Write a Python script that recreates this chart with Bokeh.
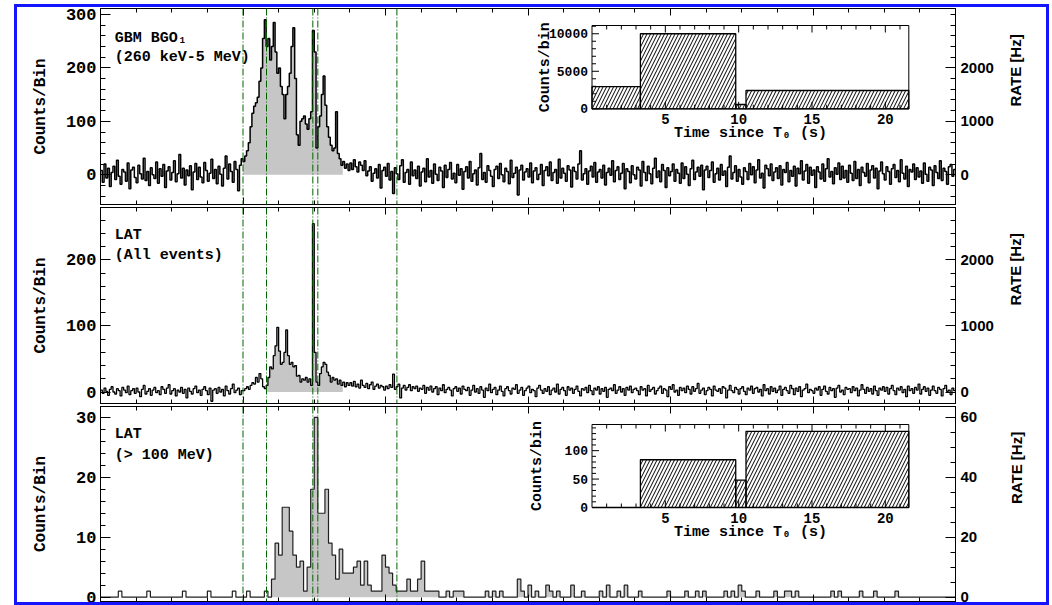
import math
from bokeh.plotting import figure
from bokeh.layouts import column
from bokeh.models import Range1d, LinearAxis, FixedTicker, Span, Label
from bokeh.core.properties import value
from bokeh.embed import file_html
from bokeh.resources import INLINE

# ------------------------------------------------------------------ data
T_START = -20.0
T_END = 100.0
FINE_BIN = 0.25    # s  (GBM BGO and LAT all events)
COARSE_BIN = 0.5   # s  (LAT > 100 MeV)

# GBM BGO counts / bin
gbm_pre = [8, -14, 20, -6, 12, -22, 4, 16, -9, 27, -3, -18, 10, 5, -12, 22, -26, 9, 14, -5,
           -15, 18, 2, -8, 31, -11, 6, -20, 13, 0, -7, 24, -16, 11, -3, 19, -24, 7, 15, -10,
           4, 26, -13, 2, 38, -6, 12, -19, 9, -2, 17, -28, 5, 21, -9, 14, -4, -15, 23, 8,
           -12, 3, 29, -7, 10, -17, 16, 1, -21, 12, 35, -8, 20, 6, -14, 25, 10, -30, 18, 30]
gbm_burst = [25, 35, 45, 60, 90, 115, 128, 135, 145, 175, 200, 255, 290, 240, 255, 215, 240, 285, 230, 190,
             200, 165, 150, 105, 150, 165, 190, 240, 275, 180, 75, 55, 100, 105, 110, 95, 85, 105, 118, 270,
             230, 50, 90, 110, 150, 185, 130, 90, 70, 55, 45, 50, 118, 40, 30, 18, 25, 12, 20, 8]
gbm_post = [22, 10, 28, 15, 5, 24, 18, 8, 26, -2, 7, 15, -12, 3, 11, -6, 19, -25, 8, 14,
            -3, 21, -10, 6, -35, 13, 2, -9, 17, 28, -14, 4, 10, -18, 24, -2, 9, -7, 16, -21,
            5, 12, -13, 30, -4, 8, -16, 20, 1, -11, 14, 7, -24, 18, -5, 10, 23, -8, 3, -15,
            19, -1, 11, -27, 6, 15, -6, 25, -12, 2, 9, -19, 13, 40, -9, 4, -14, 17, 8, -3,
            -22, 10, 16, -7, 21, 0, -13, 12, 6, -17, 27, -5, 3, 14, -38, 9, 18, -10, 5, 11,
            -4, 22, -15, 7, 13, -9, 1, 19, -20, 8, 15, -2, 24, -11, 4, 10, -16, 29, -6, 12,
            3, -12, 17, 9, -23, 14, 6, -8, 20, 45, -10, 2, 11, -18, 7, 16, -4, 23, -14, 5,
            10, -6, 18, -19, 4, 12, -1, 26, -13, 8, 15, -9, 3, 21, -26, 11, 6, -15, 17, 0,
            -8, 14, 9, -21, 25, 4, -11, 16, 2, -17, 12, 31, -5, 7, -13, 19, 8, -24, 13, -2,
            6, 20, -12, 10, 3, -16, 22, -7, 15, 1, -20, 11, 27, -9, 5, 14, -3, 18, -28, 9,
            16, -5, 8, 24, -14, 2, 12, -10, 19, -1, 7, -22, 14, 35, -8, 4, 17, -12, 10, -4,
            -18, 13, 6, -9, 21, 0, 15, -15, 9, 28, -6, 3, -25, 18, 11, -2, 20, -11, 5, 13,
            -7, 17, -19, 10, 4, 23, -13, 8, -3, 16, -21, 12, 2, 26, -10, 7, 19, -16, 14, -1,
            9, -24, 15, 5, -8, 20, -12, 11, 30, -4, 6, -17, 13, 1, 22, -9, 16, -6, 8, -14,
            18, 3, -11, 25, -7, 10, -20, 14, 4, -3, 21, -15, 9, 17, -6, 12, -26, 7, 24, 2,
            -10, 15, 6, -18, 11, 19, -5, 8, -13, 28, 3, -8, 16, -22, 10, 5, 20, -9, 13, -4,
            7, -16, 22, 1, -12, 14, 9, -20, 17, 4, -7, 26, -11, 12, 6, -18, 15, 19, -3, 10]

# LAT all events counts / bin
lat_pre = [3, -2, 6, 1, -5, 4, 8, 0, -3, 5, 2, -6, 7, 3, -1, 9, -4, 2, 5, -2,
           6, 0, -7, 4, 10, -3, 1, 5, -5, 3, 7, -1, 2, -4, 8, 4, -2, 6, 11, -3,
           2, 5, -6, 3, 0, 7, -2, 4, -9, 6, 1, -3, 5, 9, -1, 3, -5, 4, 8, 2,
           -4, 6, -14, 3, 5, -2, 7, 0, 4, -6, 9, 2, -3, 5, 12, -1, 3, 6, -4, 2]
lat_burst = [2, 5, 8, 4, 10, 14, 12, 22, 15, 28, 20, 8, 5, 10, 22, 38, 35, 55, 70, 98,
             62, 42, 45, 60, 94, 55, 42, 45, 38, 40, 24, 25, 15, 20, 18, 22, 15, 20, 10, 255,
             60, 15, 10, 28, 38, 45, 42, 30, 25, 15, 22, 18, 20, 12, 18, 10, 15, 8, 14, 10]
lat_post = [14, 9, 16, 8, 12, 6, 18, 10, 7, 13, 5, 11, 15, 4, 9, 12, 6, 10, 8, 3,
            9, 5, 11, 7, 27, 4, 8, 12, -9, 6, 10, 3, 7, 11, 2, 8, 5, 9, 1, 6,
            4, 10, -2, 7, 3, 9, 0, 5, 8, -4, 6, 2, 11, -1, 4, 7, 3, -6, 5, 8,
            1, 6, -3, 9, 4, 2, 7, -5, 3, 10, 0, 5, -2, 8, 3, -8, 6, 2, 12, -1,
            4, 7, -4, 3, 9, 1, -6, 5, 8, 2, -3, 6, 4, 11, -2, 3, 7, -5, 2, 6,
            9, -1, 4, 2, -7, 6, 10, 3, -2, 5, 1, 8, -4, 3, 6, 0, 12, -3, 4, 7,
            2, -5, 8, 3, 6, -2, 4, 9, 1, -6, 5, 3, 7, -1, 10, 2, -4, 6, 3, 8,
            -3, 5, 1, 7, -8, 4, 6, 2, 11, -2, 3, 8, 0, 5, -5, 7, 3, 9, -1, 4,
            6, 2, -4, 8, 3, 5, -6, 10, 1, 4, 7, -3, 2, 6, 9, -2, 5, 3, -7, 8,
            4, 11, 0, 3, -5, 7, 2, 6, -1, 9, 4, -3, 8, 1, 5, 13, -2, 3, 6, -4,
            2, 7, 4, -6, 9, 3, 1, 5, -2, 8, 6, -9, 3, 10, 2, -1, 7, 4, -3, 5,
            8, 1, -4, 6, 3, 9, -2, 5, 7, 0, 4, -6, 11, 2, 5, -3, 8, 1, 6, -1,
            3, 9, -5, 4, 7, 2, -2, 10, 5, -4, 6, 1, 8, -7, 3, 5, 12, -1, 4, 2,
            -2, 6, 3, 8, -5, 4, 9, 1, -3, 7, 2, 5, -8, 6, 10, 0, 3, -4, 7, 4,
            5, -1, 8, 2, 6, -6, 3, 11, 4, -2, 7, 1, 5, -3, 9, 2, -5, 6, 3, 8,
            1, 7, -3, 5, 10, 2, -4, 6, 3, 8, -1, 4, -7, 9, 2, 5, -2, 7, 3, 12,
            -3, 4, 8, 1, 6, -5, 3, 9, 2, -2, 7, 4, -6, 5, 10, 1, 3, -4, 6, 2]

# LAT > 100 MeV counts / bin (0.5 s bins from -20 s)
lat100 = [0, 0, 0, 0, 0, 1, 0, 0, 0, 0, 0, 0, 0, 1, 0, 0, 0, 0, 0, 0,
          0, 0, 0, 1, 0, 0, 0, 0, 0, 0, 1, 0, 0, 0, 0, 0, 0, 1, 0, 0,
          0, 1, 0, 0, 0, 0, 1, 0, 3, 9, 7, 15, 15, 11, 7, 5, 6, 1, 5, 18,
          30, 14, 14, 18, 9, 7, 3, 8, 4, 4, 4, 5, 6, 2, 6, 2, 1, 1, 1, 7,
          5, 4, 2, 1, 1, 1, 3, 1, 1, 3, 6, 1, 1, 1, 1, 0, 0, 1, 0, 1,
          1, 1, 0, 0, 0, 0, 0, 0, 1, 0, 1, 0, 1, 0, 0, 0, 0, 3, 1, 0,
          2, 0, 1, 0, 0, 2, 1, 0, 1, 0, 0, 0, 2, 0, 0, 1, 0, 0, 0, 0,
          1, 0, 2, 0, 0, 1, 0, 2, 0, 0, 0, 1, 0, 0, 0, 0, 0, 0, 0, 1,
          0, 0, 0, 0, 1, 0, 0, 1, 0, 1, 0, 0, 0, 0, 0, 1, 0, 1, 0, 2,
          1, 0, 0, 0, 1, 0, 0, 0, 0, 1, 0, 0, 1, 1, 0, 1, 0, 0, 0, 0,
          0, 0, 0, 0, 0, 1, 0, 1, 0, 0, 0, 0, 0, 1, 0, 0, 0, 1, 0, 0,
          0, 0, 0, 1, 0, 0, 0, 0, 0, 0, 0, 0, 0, 0, 0, 0, 0, 0, 0, 0]

# time intervals (s since T0) and integrated counts shown in the insets
intervals = [0.0, 3.3, 9.8, 10.5, 21.6]
gbm_interval_counts = [2950, 10000, 570, 2440]
lat_interval_counts = [0, 84, 48, 134]

gbm_fill_window = (0.0, 14.0)
lat_fill_window = (3.25, 14.0)
lat100_fill_window = (3.5, 100.0)

x_major_ticks = [-20, 0, 20, 40, 60, 80, 100]
x_minor_ticks = [-20 + 5 * k for k in range(25)]

# ------------------------------------------------------------------ style
MONO = "Liberation Mono"
SANS = "Liberation Sans"
GRAY = "#c6c6c6"
GREEN = "#006400"
FRAME_LEFT = 100.0
FRAME_W = 855


def step_xy(t0, width, vals):
    x = [t0 + width * i for i in range(len(vals) + 1)]
    y = list(vals) + [vals[-1]]
    return x, y


def style_x_axis(ax):
    ax.ticker = FixedTicker(ticks=x_major_ticks, minor_ticks=x_minor_ticks)
    ax.major_tick_in = 7
    ax.major_tick_out = 0
    ax.minor_tick_in = 4
    ax.minor_tick_out = 0
    ax.major_label_overrides = {t: "" for t in x_major_ticks}
    ax.major_label_text_font_size = "0px"
    ax.major_label_standoff = 0
    ax.axis_line_color = "black"
    ax.major_tick_line_color = "black"
    ax.minor_tick_line_color = "black"


def make_panel(frame_h, yr, left_major, left_minor, factor, right_major, right_minor,
               top, bottom, lstand, rstand):
    p = figure(frame_width=FRAME_W, frame_height=frame_h,
               x_range=Range1d(T_START, T_END), y_range=Range1d(*yr),
               output_backend="svg", toolbar_location=None,
               min_border_left=83, min_border_right=91,
               min_border_top=top, min_border_bottom=bottom)
    p.outline_line_color = "black"
    p.outline_line_width = 1
    p.xgrid.visible = False
    p.ygrid.visible = False
    p.background_fill_color = "white"
    p.border_fill_color = "white"
    style_x_axis(p.xaxis[0])
    above = LinearAxis()
    style_x_axis(above)
    p.add_layout(above, "above")

    yl = p.yaxis[0]
    yl.ticker = FixedTicker(ticks=left_major, minor_ticks=left_minor)
    yl.major_tick_in = 10
    yl.major_tick_out = 0
    yl.minor_tick_in = 5
    yl.minor_tick_out = 0
    yl.major_label_text_font = MONO
    yl.major_label_text_font_style = "bold"
    yl.major_label_text_font_size = "17px"
    yl.major_label_text_color = "black"
    yl.major_label_standoff = 4
    yl.axis_label = "Counts/Bin"
    yl.axis_label_text_font = MONO
    yl.axis_label_text_font_style = "bold"
    yl.axis_label_text_font_size = "16px"
    yl.axis_label_text_color = "black"
    yl.axis_label_standoff = lstand
    yl.axis_line_color = "black"

    p.extra_y_ranges = {"rate": Range1d(yr[0] * factor, yr[1] * factor)}
    ax = LinearAxis(y_range_name="rate",
                    ticker=FixedTicker(ticks=right_major, minor_ticks=right_minor))
    ax.major_tick_in = 10
    ax.major_tick_out = 0
    ax.minor_tick_in = 5
    ax.minor_tick_out = 0
    ax.major_label_text_font = SANS
    ax.major_label_text_font_style = "bold"
    ax.major_label_text_font_size = "15px"
    ax.major_label_text_color = "black"
    ax.major_label_standoff = 5
    ax.axis_label = "RATE [Hz]"
    ax.axis_label_text_font = SANS
    ax.axis_label_text_font_style = "bold"
    ax.axis_label_text_font_size = "15px"
    ax.axis_label_text_color = "black"
    ax.axis_label_standoff = rstand
    ax.axis_label_orientation = math.pi / 2
    ax.axis_line_color = "black"
    p.add_layout(ax, "right")
    return p


def draw_hist(p, t0, width, vals, window, color="black", lw=1.0):
    sel = [i for i in range(len(vals)) if window[0] <= t0 + width * i < window[1]]
    fx, fy = step_xy(t0 + width * sel[0], width, [max(vals[i], 0) for i in sel])
    p.varea_step(x=fx, y1=[0] * len(fx), y2=fy, step_mode="after", fill_color=GRAY)
    x, y = step_xy(t0, width, vals)
    p.step(x=x, y=y, mode="after", line_color=color, line_width=lw)


def add_spans(p):
    for t in intervals:
        p.add_layout(Span(location=t, dimension="height", line_color=GREEN,
                          line_width=1, line_dash="7 2 1 2"))


def add_text_label(p, y, txt):
    p.add_layout(Label(x=-18, y=y, text=txt, text_font=MONO, text_font_style="bold",
                       text_font_size="15px", text_baseline="middle", text_color="black"))


def add_inset(p, key, frame_top, frame_h, box, counts, y_top, y_major, y_minor, ylab_dx):
    x0, x1 = intervals[0], intervals[-1]
    sx = (x1 - x0) / (box[1] - box[0])
    xs = x0 - (box[0] - FRAME_LEFT) * sx
    sy = y_top / (box[3] - box[2])
    ys = -(frame_top + frame_h - box[3]) * sy
    kx, ky = key + "_x", key + "_y"
    p.extra_x_ranges = {**p.extra_x_ranges, kx: Range1d(xs, xs + FRAME_W * sx)}
    p.extra_y_ranges = {**p.extra_y_ranges, ky: Range1d(ys, ys + frame_h * sy)}
    kw = dict(x_range_name=kx, y_range_name=ky)
    p.quad(left=x0, right=x1, bottom=0, top=y_top, fill_color="white",
           line_color="black", line_width=1, **kw)
    p.quad(left=intervals[:-1], right=intervals[1:], bottom=0, top=counts,
           fill_color=None, line_color="black", line_width=1.3,
           hatch_pattern="/", hatch_color="black", hatch_scale=7, hatch_weight=1, **kw)
    xmaj = [5, 10, 15, 20]
    xmin = [k for k in range(1, 22) if k % 5]
    p.ray(x=[x0] * len(y_major), y=y_major, length=7, angle=0, length_units="screen",
          line_color="black", **kw)
    p.ray(x=[x0] * len(y_minor), y=y_minor, length=4, angle=0, length_units="screen",
          line_color="black", **kw)
    p.ray(x=xmaj, y=[0] * 4, length=7, angle=math.pi / 2, length_units="screen",
          line_color="black", **kw)
    p.ray(x=xmin, y=[0] * len(xmin), length=4, angle=math.pi / 2, length_units="screen",
          line_color="black", **kw)
    p.ray(x=xmaj, y=[y_top] * 4, length=7, angle=-math.pi / 2, length_units="screen",
          line_color="black", **kw)
    p.ray(x=xmin, y=[y_top] * len(xmin), length=4, angle=-math.pi / 2, length_units="screen",
          line_color="black", **kw)
    p.text(x=[x0] * len(y_major), y=y_major, text=[str(v) for v in y_major],
           text_font=value(MONO), text_font_style="bold", text_font_size="13px",
           text_align="right", text_baseline="middle", x_offset=-4, text_color="black", **kw)
    p.text(x=xmaj, y=[0] * 4, text=[str(v) for v in xmaj], text_font=value(MONO),
           text_font_style="bold", text_font_size="14px", text_align="center",
           text_baseline="middle", y_offset=10, text_color="black", **kw)
    p.text(x=[(x0 + x1) / 2], y=[0], text=["Time since T\u2080 (s)"], text_font=value(MONO),
           text_font_style="bold", text_font_size="15px", text_align="center",
           text_baseline="middle", y_offset=25, text_color="black", **kw)
    p.text(x=[x0], y=[y_top / 2], text=["Counts/bin"], text_font=value(MONO),
           text_font_style="bold", text_font_size="15px", text_align="center",
           text_baseline="middle", angle=math.pi / 2, x_offset=ylab_dx,
           text_color="black", **kw)


# ------------------------------------------------------------------ panel 1: GBM
Y1 = (-55.7, 311.2)
p1 = make_panel(196, Y1, [0, 100, 200, 300], [-40 + 20 * k for k in range(18)], 10,
                [0, 1000, 2000], [-400 + 200 * k for k in range(18)], 1, 1, 13, 19)
gbm = gbm_pre + gbm_burst + gbm_post
draw_hist(p1, T_START, FINE_BIN, gbm, gbm_fill_window, lw=1.5)
add_spans(p1)
add_text_label(p1, 255.8, "GBM BGO\u2081")
add_text_label(p1, 220.2, "(260 keV-5 MeV)")
add_inset(p1, "gi", 8, 196, (591.5, 908.3, 25.0, 108.3), gbm_interval_counts, 11100,
          [0, 5000, 10000], [1000 * k for k in range(12) if k % 5], -47)

# ------------------------------------------------------------------ panel 2: LAT all
Y2 = (-17.4, 279.5)
p2 = make_panel(196, Y2, [0, 100, 200], [20 * k for k in range(14)], 10,
                [0, 1000, 2000], [200 * k for k in range(14)], 2, 1, 13, 19)
lat = lat_pre + lat_burst + lat_post
draw_hist(p2, T_START, FINE_BIN, lat, lat_fill_window, lw=1.3)
add_spans(p2)
add_text_label(p2, 236.6, "LAT")
add_text_label(p2, 206.3, "(All events)")

# ------------------------------------------------------------------ panel 3: LAT > 100 MeV
Y3 = (-0.72, 31.8)
p3 = make_panel(195, Y3, [0, 10, 20, 30], [2 * k for k in range(16)], 2,
                [0, 20, 40, 60], [5 * k for k in range(13)], 2, 1, 23, 36)
draw_hist(p3, T_START, COARSE_BIN, lat100, lat100_fill_window, color="#202020", lw=1.2)
add_spans(p3)
add_text_label(p3, 27.1, "LAT")
add_text_label(p3, 23.6, "(> 100 MeV)")
add_inset(p3, "li", 406, 195, (591.5, 908.3, 424.0, 507.0), lat_interval_counts, 146,
          [0, 50, 100], [10 * k for k in range(15) if k % 5], -55)

layout = column(p1, p2, p3, spacing=0,
                styles={"border": "3px solid #1414ff", "margin-left": "14px",
                        "margin-top": "4px"})

open("out.html", "w").write(file_html(layout, INLINE))
